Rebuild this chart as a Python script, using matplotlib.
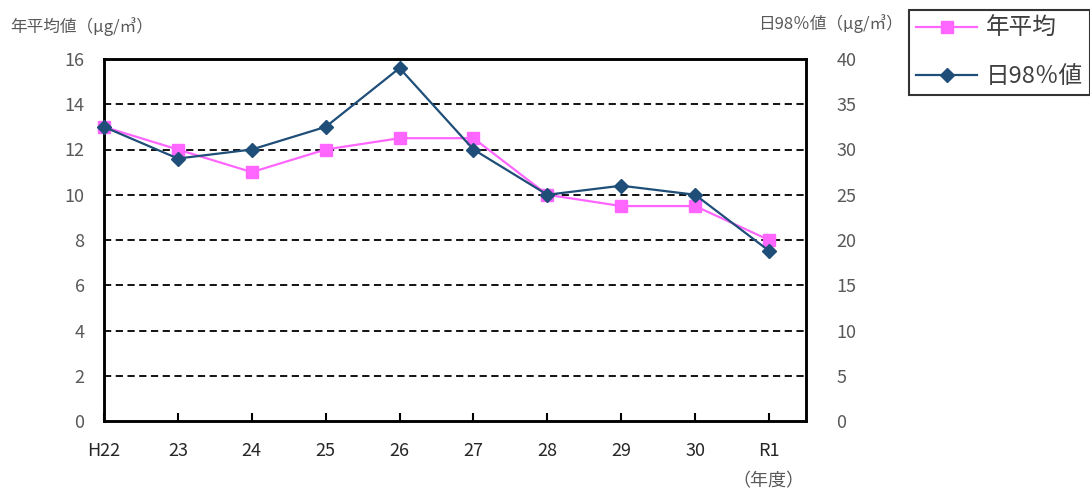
import matplotlib
matplotlib.use("Agg")
import matplotlib.pyplot as plt
from matplotlib.lines import Line2D

plt.rcParams['font.family'] = ['Noto Sans CJK JP', 'DejaVu Sans']

years = ["H22", "23", "24", "25", "26", "27", "28", "29", "30", "R1"]
annual_mean = [13.0, 12.0, 11.0, 12.0, 12.5, 12.5, 10.0, 9.5, 9.5, 8.0]
daily_98 = [32.5, 29.0, 30.0, 32.5, 39.0, 30.0, 25.0, 26.0, 25.0, 18.8]
left_ticks = [0, 2, 4, 6, 8, 10, 12, 14, 16]
right_ticks = [0, 5, 10, 15, 20, 25, 30, 35, 40]

pink = "#FF66FF"
navy = "#1F4E79"
gray = "#595959"

fig = plt.figure(figsize=(10.9, 4.93), dpi=100)
ax = fig.add_axes([104/1090, 72/493, 702/1090, 362/493])
ax2 = ax.twinx()

x = list(range(len(years)))
ax.plot(x, annual_mean, color=pink, lw=1.6, marker='s', ms=8.5, zorder=3, clip_on=False)
ax2.plot(x, daily_98, color=navy, lw=1.6, marker='D', ms=7, zorder=3, clip_on=False)

ax.set_xlim(0, 9.5)
ax.set_ylim(0, 16)
ax2.set_ylim(0, 40)
ax.set_yticks(left_ticks)
ax2.set_yticks(right_ticks)
ax.set_xticks(x)
ax.set_xticklabels(years)

for yv in left_ticks[1:-1]:
    ax.axhline(yv, color='black', lw=1.3, ls=(0, (4, 2.5)), zorder=1)

for a in (ax, ax2):
    for s in a.spines.values():
        s.set_linewidth(1.8)
        s.set_color('black')

ax.tick_params(axis='y', length=0, labelsize=13, labelcolor=gray, pad=14)
ax2.tick_params(axis='y', length=0, labelsize=13, labelcolor=gray, pad=22)
ax.tick_params(axis='x', direction='in', length=6, width=1.5, labelsize=13,
               labelcolor='#262626', pad=15)

fig.text(10/1090, 1 - 27/493, "年平均値（μg/㎥）", fontsize=12, color=gray,
         ha='left', va='center')
fig.text(903/1090, 1 - 24/493, "日98％値（μg/㎥）", fontsize=12, color=gray,
         ha='right', va='center')
fig.text(768/1090, 1 - 481/493, "（年度）", fontsize=13, color=gray,
         ha='center', va='center')

handles = [Line2D([], [], color=pink, lw=1.6, marker='s', ms=8.5),
           Line2D([], [], color=navy, lw=1.6, marker='D', ms=7)]
leg = fig.legend(handles, ["年平均", "日98％値"], loc='lower left',
                 bbox_to_anchor=(909/1090, (493 - 95)/493), frameon=True,
                 fancybox=False, edgecolor='black', fontsize=17,
                 handlelength=2.6, labelspacing=1.05, borderpad=0.3,
                 handletextpad=0.35, borderaxespad=0.0)
leg.get_frame().set_linewidth(1.5)
for t in leg.get_texts():
    t.set_color('#404040')

fig.savefig("out.png", dpi=100)
